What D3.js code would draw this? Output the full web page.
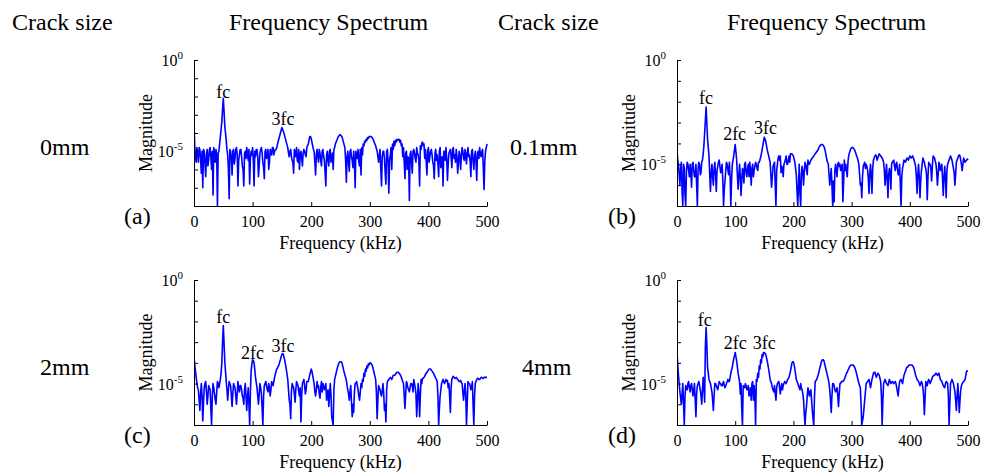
<!DOCTYPE html>
<html>
<head>
<meta charset="utf-8">
<script src="https://cdn.jsdelivr.net/npm/d3@7/dist/d3.min.js"></script>
<style>
  body { margin: 0; background: #fff; }
  text { font-family: "Liberation Serif", "Times New Roman", serif; fill: #000; }
</style>
</head>
<body>
<div id="fig"></div>
<script>
// frequency grid in kHz: one sample every 1.25 kHz
var freq = d3.range(0, 500.1, 1.25);
var xTicks = [0, 100, 200, 300, 400, 500];

// log10 of the magnitude.
// "mag*" are the samples at 0, 2.5, 5 ... kHz, "mid*" the ones in between (1.25, 3.75 ...)
var magA = [
  -3.5,-5.3,-4.8,-5.6,-4.9,-6.2,-7.0,-5.0,-6.4,-4.9,-5.5,-4.8,-6.0,-7.4,-5.1,-4.9,-8.0,-5.0,-4.2,-3.4,
  -2.1,-3.6,-4.4,-5.2,-7.6,-5.0,-6.3,-4.9,-5.4,-4.8,-6.9,-5.2,-4.9,-5.8,-6.9,-5.0,-4.8,-5.5,-6.8,-5.0,
  -4.8,-6.9,-5.3,-4.9,-6.4,-5.1,-4.8,-5.6,-6.5,-4.9,-5.3,-6.0,-4.9,-5.2,-4.8,-5.0,-4.9,-4.6,-4.3,-4.0,
  -3.7,-3.9,-4.2,-4.5,-4.8,-5.3,-4.9,-5.5,-6.2,-5.0,-4.8,-5.6,-6.0,-5.0,-5.8,-4.9,-5.2,-4.8,-4.6,-4.2,
  -4.3,-4.7,-5.0,-6.3,-4.9,-5.6,-5.1,-5.8,-4.9,-5.5,-6.9,-5.0,-5.8,-4.9,-5.3,-6.0,-4.8,-4.5,-4.3,-4.15,
  -4.1,-4.2,-4.5,-4.8,-6.7,-5.0,-6.1,-4.9,-5.5,-5.0,-7.0,-5.1,-4.9,-5.8,-6.3,-5.2,-4.7,-4.5,-4.4,-4.3,
  -4.2,-4.2,-4.3,-4.5,-4.7,-5.0,-5.6,-4.9,-6.9,-5.0,-5.4,-6.8,-4.9,-7.3,-5.2,-6.0,-4.9,-4.7,-4.5,-4.4,
  -4.35,-4.4,-4.6,-4.8,-6.5,-5.0,-5.3,-7.7,-5.0,-6.2,-4.9,-5.4,-4.8,-5.2,-6.9,-4.9,-4.5,-4.6,-4.9,-6.3,
  -4.8,-5.3,-4.9,-5.6,-6.5,-4.9,-5.2,-6.4,-4.8,-5.4,-6.9,-5.0,-4.8,-6.6,-5.1,-4.9,-5.9,-4.8,-5.2,-4.9,
  -6.2,-5.0,-6.0,-4.8,-5.4,-4.9,-5.7,-4.8,-5.2,-6.4,-4.9,-6.0,-5.0,-6.6,-5.0,-4.8,-5.3,-4.9,-7.1,-5.0,
  -4.6
];
var midA = [
  -4.7,-5.6,-5.1,-4.8,-5.4,-5.0,-4.9,-5.7,-5.2,-5.8,-4.9,-5.3,-5.0,-4.8,-5.6,-5.2,-5.1,-4.6,-3.8,-2.7,
  -2.8,-4.0,-4.9,-6.0,-4.9,-5.4,-5.0,-5.7,-4.9,-5.2,-5.5,-4.9,-5.3,-6.0,-5.1,-5.4,-5.1,-4.9,-5.4,-5.2,
  -5.5,-5.0,-4.9,-5.3,-5.8,-4.9,-5.1,-5.9,-5.0,-5.4,-4.9,-5.6,-5.1,-4.8,-5.2,-4.9,-4.8,-4.45,-4.15,-3.85,
  -3.8,-4.05,-4.35,-4.65,-5.1,-5.0,-5.3,-5.6,-4.9,-5.3,-5.5,-4.9,-5.2,-5.4,-5.1,-5.0,-5.3,-4.7,-4.4,-4.2,
  -4.5,-4.9,-5.6,-5.2,-5.3,-4.9,-5.5,-5.0,-5.3,-6.2,-5.2,-5.5,-5.0,-5.6,-5.1,-4.9,-4.6,-4.4,-4.2,-4.1,
  -4.15,-4.35,-4.65,-5.5,-5.3,-5.6,-5.0,-5.3,-5.9,-5.5,-5.0,-5.4,-5.6,-4.9,-4.8,-4.6,-4.45,-4.35,-4.25,-4.2,
  -4.2,-4.25,-4.4,-4.6,-4.85,-5.3,-5.2,-6.0,-5.3,-5.0,-6.2,-5.0,-5.6,-5.5,-4.8,-4.6,-4.45,-4.4,-4.35,-4.35,
  -4.5,-4.7,-5.3,-5.6,-5.1,-6.0,-5.4,-5.2,-5.6,-5.0,-5.1,-5.6,-5.1,-5.5,-4.7,-4.55,-4.7,-5.4,-5.6,-5.0,
  -5.6,-5.0,-5.2,-5.8,-5.1,-5.5,-5.7,-5.0,-5.9,-5.3,-5.0,-5.5,-5.4,-5.7,-5.0,-5.3,-4.9,-5.4,-5.6,-5.3,
  -5.6,-5.3,-5.2,-5.0,-5.5,-5.2,-5.1,-5.3,-5.6,-5.0,-5.5,-5.3,-5.6,-5.1,-5.4,-5.2,-5.0,-6.0,-5.5,-4.8
];

var magB = [
  -4.3,-5.0,-6.0,-4.9,-7.0,-5.2,-7.0,-4.9,-5.3,-5.0,-6.1,-4.9,-5.6,-5.0,-7.0,-4.9,-5.5,-4.9,-4.5,-3.5,
  -2.25,-3.8,-4.6,-6.3,-5.0,-6.0,-4.9,-6.3,-5.1,-4.8,-5.4,-5.0,-7.0,-5.8,-4.9,-5.3,-4.9,-7.0,-5.0,-4.6,
  -4.05,-4.8,-6.2,-5.0,-6.5,-5.2,-5.9,-4.9,-5.6,-5.0,-4.9,-6.0,-5.0,-5.3,-4.9,-5.2,-4.9,-4.8,-4.5,-4.1,
  -3.7,-3.9,-4.3,-4.6,-4.9,-6.1,-5.1,-4.9,-7.0,-5.0,-4.6,-4.6,-5.1,-5.6,-4.9,-4.6,-5.0,-4.6,-4.5,-4.5,
  -4.6,-4.9,-5.5,-7.0,-5.0,-7.0,-5.1,-6.0,-4.9,-5.3,-4.8,-5.0,-4.8,-4.7,-4.6,-4.5,-4.4,-4.3,-4.15,-4.05,
  -4.05,-4.15,-4.4,-4.8,-5.0,-6.0,-5.2,-7.0,-6.8,-5.0,-5.6,-4.9,-5.0,-5.2,-6.8,-4.8,-5.0,-5.6,-4.6,-4.35,
  -4.2,-4.2,-4.3,-4.5,-4.7,-5.0,-6.0,-6.6,-5.1,-4.9,-5.0,-5.3,-6.4,-5.0,-6.4,-4.8,-4.6,-4.6,-4.7,-4.5,
  -4.6,-4.7,-4.9,-6.0,-5.0,-6.6,-5.2,-6.2,-4.9,-4.8,-5.3,-4.9,-5.5,-5.0,-7.0,-5.2,-4.8,-4.9,-4.7,-4.8,
  -4.6,-4.7,-4.6,-4.8,-5.1,-6.4,-5.0,-6.6,-5.3,-4.7,-4.9,-5.2,-6.7,-4.9,-5.0,-5.8,-4.6,-4.7,-5.0,-6.0,
  -4.9,-5.3,-5.0,-6.5,-5.1,-6.6,-5.0,-4.8,-4.6,-4.8,-5.2,-6.0,-4.9,-4.7,-4.55,-4.8,-5.3,-4.7,-4.9,-4.8,
  -4.8
];
var midB = [
  -4.8,-5.5,-5.2,-6.3,-5.0,-6.5,-5.3,-5.0,-5.6,-5.4,-5.0,-5.3,-5.6,-6.0,-5.2,-5.0,-5.4,-4.8,-4.1,-2.9,
  -3.0,-4.2,-5.5,-5.4,-5.6,-5.2,-5.5,-5.3,-4.9,-5.1,-5.3,-5.8,-6.2,-5.3,-5.0,-5.5,-5.6,-5.8,-4.8,-4.3,
  -4.4,-5.5,-5.6,-5.5,-5.8,-5.3,-5.0,-5.4,-5.2,-5.6,-5.3,-5.2,-5.6,-5.1,-5.0,-5.3,-4.9,-4.65,-4.3,-3.9,
  -3.8,-4.1,-4.45,-4.75,-5.5,-5.6,-5.0,-6.0,-5.3,-4.7,-4.8,-5.4,-5.2,-5.0,-4.8,-5.0,-4.8,-4.9,-4.5,-4.55,
  -4.75,-5.2,-6.3,-6.0,-6.4,-5.5,-5.4,-5.3,-5.0,-5.5,-5.0,-4.9,-4.75,-4.65,-4.55,-4.45,-4.35,-4.2,-4.1,-4.05,
  -4.1,-4.25,-4.6,-4.9,-5.5,-5.6,-6.0,-5.8,-5.3,-5.3,-5.0,-5.1,-5.3,-5.0,-5.9,-5.3,-5.3,-4.9,-4.45,-4.25,
  -4.2,-4.25,-4.4,-4.6,-4.85,-5.5,-5.9,-5.6,-5.0,-5.2,-5.1,-5.7,-5.4,-5.6,-5.2,-4.7,-4.55,-4.8,-4.6,-4.55,
  -4.65,-4.8,-5.3,-5.5,-5.7,-5.5,-5.4,-5.0,-4.85,-5.1,-5.0,-5.2,-5.5,-6.0,-5.6,-5.0,-4.85,-4.8,-4.75,-4.7,
  -4.65,-4.65,-4.7,-4.95,-5.6,-5.5,-5.6,-5.8,-5.0,-4.8,-5.1,-5.5,-5.6,-5.0,-5.2,-5.1,-4.65,-4.85,-5.4,-5.5,
  -5.0,-5.2,-5.7,-5.6,-5.7,-5.3,-4.9,-4.7,-4.7,-5.0,-5.4,-5.5,-4.8,-4.6,-4.6,-5.0,-5.0,-4.8,-4.85,-4.75
];

var magC = [
  -3.7,-4.4,-5.0,-5.3,-6.3,-5.0,-6.8,-5.2,-4.9,-6.0,-5.1,-5.3,-7.0,-5.0,-5.5,-6.0,-4.9,-5.2,-4.8,-4.0,
  -2.2,-3.9,-4.9,-5.8,-4.9,-5.1,-6.1,-5.0,-5.2,-6.0,-4.9,-5.4,-5.1,-5.6,-6.0,-5.0,-6.3,-5.2,-7.0,-4.4,
  -3.85,-4.0,-4.7,-5.2,-6.0,-5.0,-5.5,-7.0,-5.1,-4.9,-5.3,-5.0,-5.6,-4.9,-5.1,-4.7,-4.4,-4.25,-4.1,-3.85,
  -3.6,-3.6,-3.9,-4.3,-4.8,-5.8,-6.7,-5.0,-5.2,-5.9,-4.9,-5.1,-5.6,-6.85,-5.0,-4.8,-5.5,-4.9,-4.9,-4.6,
  -4.3,-4.6,-5.0,-5.6,-4.9,-5.1,-5.7,-4.9,-5.0,-5.3,-5.0,-5.5,-6.1,-5.0,-6.6,-7.0,-4.8,-4.5,-4.2,-4.0,
  -3.95,-4.0,-4.3,-4.6,-4.85,-5.3,-5.8,-5.1,-6.6,-6.4,-5.0,-4.9,-5.3,-5.8,-5.0,-4.8,-4.5,-4.3,-4.15,-4.05,
  -4.0,-4.05,-4.2,-4.5,-4.8,-6.7,-5.1,-5.3,-5.6,-5.0,-6.3,-6.85,-4.9,-4.8,-4.7,-4.8,-4.6,-4.6,-4.5,-4.45,
  -4.5,-4.6,-4.8,-5.0,-6.2,-4.9,-5.2,-5.4,-5.0,-5.1,-4.8,-5.2,-6.6,-5.0,-6.6,-4.8,-4.75,-4.7,-4.55,-4.45,
  -4.35,-4.3,-4.35,-4.45,-4.6,-4.75,-4.9,-7.0,-5.6,-5.0,-4.8,-5.0,-4.8,-4.85,-5.0,-6.4,-4.8,-4.65,-4.75,-4.7,
  -4.8,-4.9,-4.85,-5.0,-5.8,-5.0,-7.0,-4.9,-5.0,-5.3,-4.9,-7.0,-5.0,-4.8,-4.75,-4.8,-4.7,-4.75,-4.7,-4.7,
  -4.7
];
var midC = [
  -4.1,-4.7,-5.2,-5.8,-5.5,-5.6,-5.9,-5.0,-5.4,-5.6,-5.2,-6.2,-5.6,-5.2,-5.8,-5.4,-5.0,-5.0,-4.5,-3.0,
  -3.0,-4.4,-5.3,-5.3,-5.0,-5.6,-5.5,-5.1,-5.6,-5.5,-5.2,-5.1,-5.3,-5.7,-5.3,-5.6,-5.7,-6.0,-5.4,-4.05,
  -3.9,-4.35,-4.95,-5.6,-5.5,-5.2,-6.2,-5.6,-5.0,-5.1,-5.4,-5.2,-5.3,-5.0,-4.9,-4.55,-4.3,-4.15,-3.95,-3.7,
  -3.55,-3.75,-4.1,-4.55,-5.3,-6.0,-5.4,-5.1,-5.5,-5.3,-5.0,-5.4,-5.2,-5.6,-4.9,-5.1,-5.3,-4.9,-4.75,-4.45,
  -4.4,-4.8,-5.4,-5.3,-5.2,-5.5,-5.2,-5.4,-5.1,-5.2,-5.8,-5.3,-5.6,-5.5,-6.8,-5.3,-4.65,-4.35,-4.1,-3.95,
  -3.95,-4.15,-4.45,-4.7,-5.1,-5.5,-5.4,-5.9,-6.0,-5.4,-5.0,-5.1,-5.6,-5.4,-5.2,-4.9,-4.65,-4.4,-4.25,-4.1,
  -4.0,-4.1,-4.35,-4.65,-5.4,-5.8,-5.2,-5.5,-5.3,-5.5,-6.0,-5.3,-4.85,-4.75,-4.75,-4.7,-4.6,-4.55,-4.45,-4.45,
  -4.55,-4.7,-4.9,-5.6,-5.5,-5.0,-5.3,-5.2,-5.0,-5.4,-5.0,-5.5,-5.8,-5.4,-5.6,-5.0,-4.75,-4.65,-4.5,-4.4,
  -4.3,-4.3,-4.4,-4.5,-4.65,-4.8,-5.6,-6.2,-5.3,-4.9,-4.9,-4.9,-4.9,-5.2,-5.6,-5.2,-4.7,-4.7,-4.75,-4.75,
  -4.85,-4.9,-4.95,-5.4,-5.4,-5.5,-6.0,-5.0,-5.1,-5.2,-6.0,-5.6,-4.9,-4.75,-4.8,-4.75,-4.7,-4.75,-4.7,-4.7
];

var magD = [
  -3.45,-4.6,-5.4,-6.0,-5.0,-7.0,-5.1,-5.3,-4.9,-5.4,-5.0,-5.6,-5.0,-6.6,-5.1,-4.9,-5.3,-6.0,-4.7,-5.9,
  -2.3,-4.2,-4.8,-5.0,-5.4,-6.3,-5.0,-5.1,-5.3,-4.9,-5.0,-5.1,-4.9,-5.2,-5.0,-4.8,-4.9,-4.5,-4.2,-3.8,
  -3.5,-3.9,-4.5,-4.9,-5.0,-7.0,-5.2,-5.0,-5.3,-5.1,-5.5,-5.8,-4.9,-5.1,-7.0,-4.9,-4.7,-4.3,-4.0,-3.7,
  -3.5,-3.6,-3.9,-4.3,-4.8,-5.0,-5.3,-5.1,-5.8,-5.0,-4.9,-5.5,-5.0,-5.1,-4.9,-5.0,-4.8,-4.7,-4.4,-4.0,
  -3.95,-4.3,-4.8,-5.0,-5.2,-5.0,-5.3,-5.8,-7.0,-6.1,-5.2,-5.6,-5.3,-6.3,-7.0,-4.9,-4.8,-4.6,-4.3,-4.0,
  -3.85,-3.9,-4.2,-4.5,-4.8,-5.3,-6.4,-5.0,-5.1,-5.4,-5.2,-6.1,-5.0,-4.9,-4.9,-4.8,-4.6,-4.45,-4.3,-4.15,
  -4.1,-4.1,-4.2,-4.4,-4.7,-5.0,-5.2,-7.0,-6.6,-5.8,-5.0,-4.9,-4.8,-5.2,-4.8,-4.5,-4.45,-4.7,-4.5,-4.6,
  -4.9,-7.0,-5.0,-4.8,-5.0,-5.1,-4.8,-5.0,-4.9,-5.0,-4.9,-5.2,-5.6,-4.9,-4.8,-5.0,-4.6,-4.4,-4.2,-4.15,
  -4.1,-4.1,-4.15,-4.3,-4.6,-4.8,-4.9,-5.1,-4.9,-5.2,-6.5,-4.9,-5.1,-4.8,-5.0,-4.8,-4.65,-4.6,-4.5,-4.6,
  -4.5,-4.8,-4.9,-5.1,-5.2,-4.9,-5.0,-7.0,-5.0,-4.8,-5.0,-5.4,-6.3,-5.0,-6.4,-5.3,-5.0,-4.9,-4.8,-4.4,
  -4.4
];
var midD = [
  -4.1,-5.0,-5.7,-5.5,-6.0,-5.6,-5.2,-5.0,-5.2,-5.1,-5.3,-5.3,-5.8,-5.5,-5.0,-5.1,-5.6,-5.3,-5.2,-3.2,
  -3.1,-4.5,-4.9,-5.2,-5.8,-5.6,-5.0,-5.2,-5.1,-5.0,-5.1,-5.0,-5.1,-5.1,-4.9,-4.9,-4.7,-4.35,-4.0,-3.65,
  -3.7,-4.2,-4.7,-5.5,-6.2,-5.1,-5.2,-5.1,-5.3,-5.6,-5.2,-5.0,-5.8,-5.5,-4.8,-4.5,-4.15,-3.85,-3.6,-3.5,
  -3.55,-3.75,-4.1,-4.55,-4.9,-5.2,-5.4,-5.5,-5.2,-4.95,-5.2,-5.2,-5.3,-5.0,-4.95,-4.9,-4.75,-4.55,-4.2,-3.95,
  -4.1,-4.55,-4.9,-5.1,-5.3,-5.2,-5.5,-6.5,-6.4,-5.6,-5.4,-5.4,-5.8,-6.7,-5.6,-4.85,-4.7,-4.45,-4.15,-3.9,
  -3.85,-4.05,-4.35,-4.65,-5.0,-5.8,-5.6,-5.0,-5.3,-5.3,-5.6,-5.5,-5.0,-4.9,-4.85,-4.7,-4.5,-4.35,-4.2,-4.1,
  -4.1,-4.15,-4.3,-4.55,-4.85,-5.1,-6.0,-6.8,-6.2,-5.4,-4.95,-4.85,-5.0,-5.0,-4.65,-4.45,-4.6,-4.6,-4.55,-4.75,
  -5.6,-5.8,-4.9,-4.9,-5.05,-4.95,-4.9,-4.95,-4.95,-4.95,-5.0,-5.4,-5.2,-4.85,-4.9,-4.8,-4.5,-4.3,-4.2,-4.1,
  -4.1,-4.1,-4.2,-4.45,-4.7,-4.85,-5.0,-5.0,-5.0,-5.6,-5.7,-5.0,-4.9,-4.9,-4.9,-4.7,-4.6,-4.55,-4.55,-4.55,
  -4.65,-4.85,-5.0,-5.15,-5.0,-4.95,-5.6,-6.0,-4.9,-4.9,-5.2,-5.8,-5.6,-5.6,-5.8,-5.1,-4.95,-4.85,-4.6,-4.4
];

// harmonic labels: text, frequency (kHz), log10 magnitude of the label centre
var notesA = [["fc", 50, -1.76], ["3fc", 152, -3.24]];
var notesB = [["fc", 50, -1.81], ["2fc", 99, -3.52], ["3fc", 152, -3.24]];
var notesC = [["fc", 50, -1.77], ["2fc", 100, -3.49], ["3fc", 152, -3.17]];
var notesD = [["fc", 47.5, -1.93], ["2fc", 100, -3.01], ["3fc", 150, -3.01]];

var crackSizes = ["0mm", "0.1mm", "2mm", "4mm"];
var panelTags = ["(a)", "(b)", "(c)", "(d)"];

// put the coarse and in-between samples back in frequency order
function merge(main, mid) {
  var out = [];
  main.forEach(function(v, i) {
    out.push(v);
    if (i < mid.length) out.push(mid[i]);
  });
  return out;
}

var svg = d3.select("#fig")
    .append("svg")
    .attr("width", 983)
    .attr("height", 474);

// column headers
svg.append("text").attr("x", 12).attr("y", 30).style("font-size", "24px").text("Crack size");
svg.append("text").attr("x", 229).attr("y", 30).style("font-size", "24px").text("Frequency Spectrum");
svg.append("text").attr("x", 498).attr("y", 30).style("font-size", "24px").text("Crack size");
svg.append("text").attr("x", 727).attr("y", 30).style("font-size", "24px").text("Frequency Spectrum");

var panels = [
  { mag: merge(magA, midA), notes: notesA, ymin: -8, left: 194, right: 487, top: 60, bottom: 206, sizeX: 40, tagX: 124 },
  { mag: merge(magB, midB), notes: notesB, ymin: -7, left: 677, right: 968, top: 60, bottom: 206, sizeX: 510, tagX: 608 },
  { mag: merge(magC, midC), notes: notesC, ymin: -7, left: 194, right: 487, top: 280, bottom: 425, sizeX: 40, tagX: 124 },
  { mag: merge(magD, midD), notes: notesD, ymin: -7, left: 677, right: 968, top: 280, bottom: 425, sizeX: 522, tagX: 608 }
];

panels.forEach(function(p, k) {
  var x = d3.scaleLinear().domain([0, 500]).range([p.left, p.right]);
  var y = d3.scaleLog().domain([Math.pow(10, p.ymin), 1]).range([p.bottom, p.top]);
  var g = svg.append("g");

  var clipId = "clip" + k;
  svg.append("clipPath").attr("id", clipId)
    .append("rect")
    .attr("x", p.left).attr("y", p.top - 2)
    .attr("width", p.right - p.left + 2).attr("height", p.bottom - p.top + 2);

  var pts = freq.map(function(f, i) {
    return [f, Math.max(Math.pow(10, p.mag[i]), Math.pow(10, p.ymin))];
  });

  var line = d3.line()
    .x(function(d) { return x(d[0]); })
    .y(function(d) { return y(d[1]); });

  g.append("path")
    .datum(pts)
    .attr("clip-path", "url(#" + clipId + ")")
    .attr("d", line)
    .style("fill", "none")
    .style("stroke", "#0000ff")
    .style("stroke-width", 1.6)
    .style("stroke-linejoin", "round");

  // x axis, MATLAB style ticks pointing inward
  var xa = g.append("g")
    .attr("transform", "translate(0," + p.bottom + ")")
    .attr("font-family", "Liberation Serif, serif")
    .call(d3.axisBottom(x).tickValues(xTicks).tickFormat(d3.format("d"))
      .tickSize(-4).tickSizeOuter(0).tickPadding(10));
  xa.selectAll("text").style("font-size", "16px");

  var decades = d3.range(p.ymin, 1).map(function(e) { return Math.pow(10, e); });
  var ya = g.append("g")
    .attr("transform", "translate(" + p.left + ",0)")
    .call(d3.axisLeft(y).tickValues(decades).tickFormat("")
      .tickSize(-4).tickSizeOuter(0));
  [xa, ya].forEach(function(a) {
    a.select(".domain").style("stroke", "#000");
    a.selectAll(".tick line").style("stroke", "#000");
  });

  // labelled decades 10^0 and 10^-5
  [0, -5].forEach(function(e) {
    var t = g.append("text")
      .attr("x", p.left - 11)
      .attr("y", y(Math.pow(10, e)) + 6)
      .attr("text-anchor", "end")
      .style("font-size", "16px");
    t.append("tspan").text("10");
    t.append("tspan").attr("dy", -7).style("font-size", "11px").text(String(e));
  });

  g.append("text")
    .attr("x", (p.left + p.right) / 2)
    .attr("y", p.bottom + 43)
    .attr("text-anchor", "middle")
    .style("font-size", "18px")
    .text("Frequency (kHz)");

  g.append("text")
    .attr("transform", "translate(" + (p.left - 48) + "," + ((p.top + p.bottom) / 2) + ") rotate(-90)")
    .attr("text-anchor", "middle")
    .attr("dy", "0.35em")
    .style("font-size", "18px")
    .text("Magnitude");

  p.notes.forEach(function(n) {
    g.append("text")
      .attr("x", x(n[1]))
      .attr("y", y(Math.pow(10, n[2])))
      .attr("dy", "0.35em")
      .attr("text-anchor", "middle")
      .style("font-size", "18px")
      .text(n[0]);
  });

  g.append("text")
    .attr("x", p.tagX)
    .attr("y", p.bottom + 18)
    .style("font-size", "24px")
    .text(panelTags[k]);

  g.append("text")
    .attr("x", p.sizeX)
    .attr("y", (p.top + p.bottom) / 2 + 22)
    .style("font-size", "24px")
    .text(crackSizes[k]);
});
</script>
</body>
</html>
